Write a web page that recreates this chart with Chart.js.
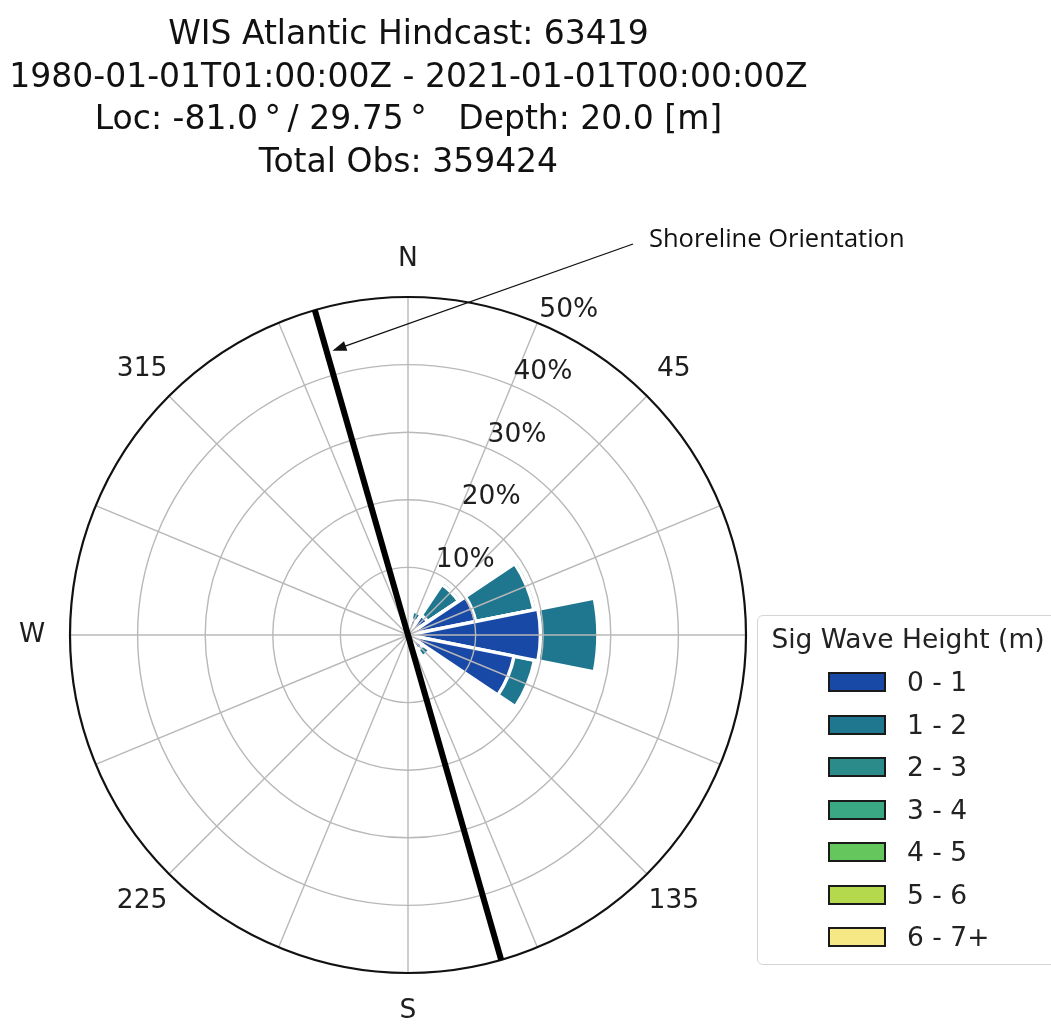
<!DOCTYPE html>
<html>
<head>
<meta charset="utf-8">
<script src="https://cdn.jsdelivr.net/npm/chart.js@4.4.1/dist/chart.umd.min.js"></script>
<style>
  html, body { margin: 0; padding: 0; background: #fff; overflow: hidden; width: 1051px; height: 1030px; }
  #chart { position: absolute; left: 0; top: 0; }
  .title { position: absolute; left: 0; width: 817px; text-align: center; font-family: "DejaVu Sans"; font-size: 33px; line-height: 42px; color: #111; white-space: pre; }
  #legend { position: absolute; left: 757px; top: 615px; width: 300px; height: 350px; box-sizing: border-box;
            border: 1.5px solid #d4d4d4; border-radius: 6px; background: #fff; font-family: "DejaVu Sans"; font-size: 26.5px; color: #222; }
  #legend .lt { position: absolute; left: 0; width: 300px; top: 6px; line-height: 34px; text-align: center; }
  #legend .sw { position: absolute; left: 70px; width: 58px; height: 20px; box-sizing: border-box; border: 2px solid #1a1a1a; }
  #legend .lb { position: absolute; left: 149px; line-height: 30px; white-space: pre; }
  #shore { position: absolute; left: 649px; top: 221px; font-family: "Open Sans"; font-size: 25.5px; line-height: 32px; color: #111; white-space: pre; }
</style>
</head>
<body>
<canvas id="chart" width="1051" height="1030"></canvas>
<div id="titles"></div>
<div id="legend"></div>
<div id="shore">Shoreline Orientation</div>
<script>
// ---- data ----
const directions = ['N','NNE','NE','ENE','E','ESE','SE','SSE','S','SSW','SW','WSW','W','WNW','NW','NNW'];
const binLabels = ['0 - 1', '1 - 2', '2 - 3', '3 - 4', '4 - 5', '5 - 6', '6 - 7+'];
const binColors = ['#1849a6', '#1e768f', '#2a8b8a', '#3aa882', '#66c65e', '#b4d94c', '#f6e884'];
const h0_1 = [0.4, 2.3, 3.5, 10.2, 19.6, 16.0, 2.6, 0.8, 0, 0, 0, 0, 0, 0, 0, 0.2];
const h1_2 = [0.1, 1.3, 5.5, 8.8, 8.5, 3.1, 1.3, 0.3, 0, 0, 0, 0, 0, 0, 0, 0];
const h2_3 = [0, 0.1, 0.5, 0.5, 0.2, 0.1, 0.1, 0, 0, 0, 0, 0, 0, 0, 0, 0];
const h3_4 = [0, 0, 0.1, 0.2, 0.1, 0, 0, 0, 0, 0, 0, 0, 0, 0, 0, 0];
const h4_5 = [0, 0, 0, 0, 0, 0, 0, 0, 0, 0, 0, 0, 0, 0, 0, 0];
const h5_6 = [0, 0, 0, 0, 0, 0, 0, 0, 0, 0, 0, 0, 0, 0, 0, 0];
const h6_7 = [0, 0, 0, 0, 0, 0, 0, 0, 0, 0, 0, 0, 0, 0, 0, 0];
const ringTicks = [10, 20, 30, 40, 50];
const ringLabels = ['10%', '20%', '30%', '40%', '50%'];
const compassLabels = ['N', '45', 'E', '135', 'S', '225', 'W', '315'];
const rMax = 50;
const shorelineBearing = 344;   // degrees from north
const titleLines = [
  'WIS Atlantic Hindcast: 63419',
  '1980-01-01T01:00:00Z - 2021-01-01T00:00:00Z',
  'Loc: -81.0\u2009\u00b0\u2009/ 29.75\u2009\u00b0   Depth: 20.0 [m]',
  'Total Obs: 359424'
];
const legendTitle = 'Sig Wave Height (m)';

// ---- titles ----
const tEl = document.getElementById('titles');
titleLines.forEach((t, i) => {
  const d = document.createElement('div');
  d.className = 'title'; d.style.top = (12 + i * 42.5) + 'px'; d.textContent = t;
  tEl.appendChild(d);
});
// ---- legend ----
const lg = document.getElementById('legend');
const ltEl = document.createElement('div'); ltEl.className = 'lt'; ltEl.textContent = legendTitle; lg.appendChild(ltEl);
binLabels.forEach((lab, i) => {
  const sw = document.createElement('div'); sw.className = 'sw';
  sw.style.top = (56 + i * 42.5) + 'px'; sw.style.background = binColors[i]; lg.appendChild(sw);
  const lb = document.createElement('div'); lb.className = 'lb';
  lb.style.top = (51 + i * 42.5) + 'px'; lb.textContent = lab; lg.appendChild(lb);
});

// ---- stacked (cumulative) datasets for the polar area ----
const bins = [h0_1, h1_2, h2_3, h3_4, h4_5, h5_6, h6_7];
let running = directions.map(() => 0);
const datasets = bins.map((b, i) => {
  running = running.map((v, k) => v + b[k]);
  return { label: binLabels[i], data: running.slice(), backgroundColor: binColors[i],
           borderColor: '#ffffff', borderWidth: 3.5 };
});

const halfSlice = 180 / directions.length;

const rosePlugin = {
  id: 'rose',
  afterDatasetsDraw(chart) {
    const s = chart.scales.r, ctx = chart.ctx;
    const cx = s.xCenter, cy = s.yCenter;
    const R = s.getDistanceFromCenterForValue(rMax);
    const dirAngle = i => s.getIndexAngle(i) - Math.PI / 2 + halfSlice * Math.PI / 180;
    ctx.save();
    // grid rings
    ctx.strokeStyle = '#b8b8b8'; ctx.lineWidth = 1.4;
    ringTicks.forEach(v => {
      if (v >= rMax) return;
      ctx.beginPath(); ctx.arc(cx, cy, s.getDistanceFromCenterForValue(v), 0, Math.PI * 2); ctx.stroke();
    });
    // spokes
    directions.forEach((d, i) => {
      const a = dirAngle(i);
      ctx.beginPath(); ctx.moveTo(cx, cy); ctx.lineTo(cx + R * Math.cos(a), cy + R * Math.sin(a)); ctx.stroke();
    });
    // outer frame
    ctx.strokeStyle = '#111'; ctx.lineWidth = 2.2;
    ctx.beginPath(); ctx.arc(cx, cy, R, 0, Math.PI * 2); ctx.stroke();
    // ring labels along NNE
    ctx.fillStyle = '#1e1e1e'; ctx.font = '26.5px "DejaVu Sans"';
    ctx.textAlign = 'left'; ctx.textBaseline = 'alphabetic';
    const la = dirAngle(1);
    ringTicks.forEach((v, i) => {
      const r = s.getDistanceFromCenterForValue(v);
      ctx.fillText(ringLabels[i], cx + r * Math.cos(la) + 2, cy + r * Math.sin(la) - 6);
    });
    // compass labels
    ctx.textAlign = 'center'; ctx.textBaseline = 'middle';
    compassLabels.forEach((t, i) => {
      const a = dirAngle(i * 2);
      ctx.fillText(t, cx + (R + 38) * Math.cos(a), cy + (R + 38) * Math.sin(a));
    });
    // shoreline orientation line
    const sb = (shorelineBearing - 90) * Math.PI / 180;
    ctx.strokeStyle = '#000'; ctx.lineWidth = 6;
    ctx.beginPath();
    ctx.moveTo(cx + R * Math.cos(sb), cy + R * Math.sin(sb));
    ctx.lineTo(cx - R * Math.cos(sb), cy - R * Math.sin(sb));
    ctx.stroke();
    // annotation arrow
    const tipR = R * 0.875;
    const tx = cx + tipR * Math.cos(sb) + 6, ty = cy + tipR * Math.sin(sb);
    const fx = 633, fy = 244;
    const ang = Math.atan2(ty - fy, tx - fx);
    ctx.lineWidth = 1.3; ctx.strokeStyle = '#111'; ctx.fillStyle = '#111';
    ctx.beginPath(); ctx.moveTo(fx, fy); ctx.lineTo(tx - 12 * Math.cos(ang), ty - 12 * Math.sin(ang)); ctx.stroke();
    ctx.beginPath();
    ctx.moveTo(tx, ty);
    ctx.lineTo(tx - 14 * Math.cos(ang) + 5 * Math.sin(ang), ty - 14 * Math.sin(ang) - 5 * Math.cos(ang));
    ctx.lineTo(tx - 14 * Math.cos(ang) - 5 * Math.sin(ang), ty - 14 * Math.sin(ang) + 5 * Math.cos(ang));
    ctx.closePath(); ctx.fill();
    ctx.restore();
  }
};

new Chart(document.getElementById('chart'), {
  type: 'polarArea',
  data: { labels: directions, datasets },
  options: {
    responsive: false,
    animation: false,
    layout: { padding: { left: 70, right: 305, top: 297, bottom: 57 } },
    plugins: { legend: { display: false }, title: { display: false }, tooltip: { enabled: false } },
    scales: {
      r: {
        min: 0, max: rMax, startAngle: -halfSlice,
        ticks: { display: false, stepSize: 10 },
        grid: { display: false },
        angleLines: { display: false },
        pointLabels: { display: false }
      }
    }
  },
  plugins: [rosePlugin]
});
</script>
</body>
</html>
